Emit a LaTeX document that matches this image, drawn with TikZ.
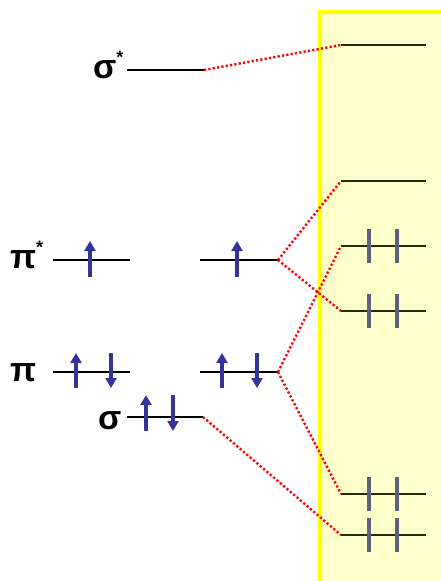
\documentclass[tikz,border=0pt]{standalone}
\usepackage{fontspec}
\setmainfont{Liberation Sans}
\usetikzlibrary{arrows.meta}
\definecolor{boxfill}{RGB}{255,255,204}
\definecolor{boxedge}{RGB}{255,255,0}
\definecolor{elec}{RGB}{51,51,153}
\definecolor{mlevel}{RGB}{40,40,10}
\definecolor{tick}{RGB}{95,95,128}
\tikzset{
  level/.style={line width=2.4pt,black},
  rlevel/.style={line width=2.6pt,mlevel},
  corr/.style={red,line width=2.4pt,dash pattern=on 2.2pt off 2.2pt},
  eup/.style={elec,line width=3.2pt,-{Triangle[width=11pt,length=10pt]}},
  ticks/.style={tick,line width=3.6pt},
  lab/.style={font=\fontsize{34}{36}\bfseries\selectfont,inner sep=0pt},
}
\newcommand{\st}{\raisebox{0.42em}{\fontsize{18}{18}\selectfont *}}
\begin{document}
\begin{tikzpicture}[x=1pt,y=-1pt]
\useasboundingbox (0,0) rectangle (440,581);
% yellow box
\fill[boxfill] (320,12) rectangle (442,583);
\draw[boxedge,line width=4pt] (442,12) -- (320,12) -- (320,583);
% right levels
\foreach \n/\y in {a/45,b/181,c/246,d/311,e/494,f/535}{
  \coordinate (r\n L) at (341,\y);
  \coordinate (r\n R) at (426,\y);
  \draw[rlevel] (r\n L) -- (r\n R);
}
\foreach \n/\y in {c/246,d/311,e/494,f/535}{
  \draw[ticks] (369,\y-17) -- (369,\y+17);
  \draw[ticks] (397,\y-17) -- (397,\y+17);
}
% left levels
\coordinate (ssL) at (127,70); \coordinate (ssR) at (204,70);
\coordinate (psaL) at (53,260); \coordinate (psaR) at (130,260);
\coordinate (psbL) at (200,260); \coordinate (psbR) at (278,260);
\coordinate (paL) at (53,372); \coordinate (paR) at (130,372);
\coordinate (pbL) at (200,372); \coordinate (pbR) at (278,372);
\coordinate (sL) at (127,417); \coordinate (sR) at (203,417);
\foreach \a/\b in {ssL/ssR,psaL/psaR,psbL/psbR,paL/paR,pbL/pbR,sL/sR}
  \draw[level] (\a) -- (\b);
% labels
\node[lab,anchor=base west] (lss) at (93,78) {σ\st};
\node[lab,anchor=base west] (lps) at (10,268) {π\st};
\node[lab,anchor=base west] (lp) at (10,381) {π};
\node[lab,anchor=base west] (ls) at (98,429) {σ};
% electrons
\draw[eup] (90,277) -- (90,241);
\draw[eup] (237,277) -- (237,241);
\draw[eup] (76,388) -- (76,353);
\draw[eup] (111,353) -- (111,388);
\draw[eup] (222,388) -- (222,353);
\draw[eup] (257,353) -- (257,388);
\draw[eup] (146,431) -- (146,395);
\draw[eup] (173,395) -- (173,431);
% correlation lines
\draw[corr] (ssR) -- (raL);
\draw[corr] (psbR) -- (rbL);
\draw[corr] (psbR) -- (rdL);
\draw[corr] (pbR) -- (rcL);
\draw[corr] (pbR) -- (reL);
\draw[corr] (sR) -- (rfL);
\end{tikzpicture}
\end{document}
